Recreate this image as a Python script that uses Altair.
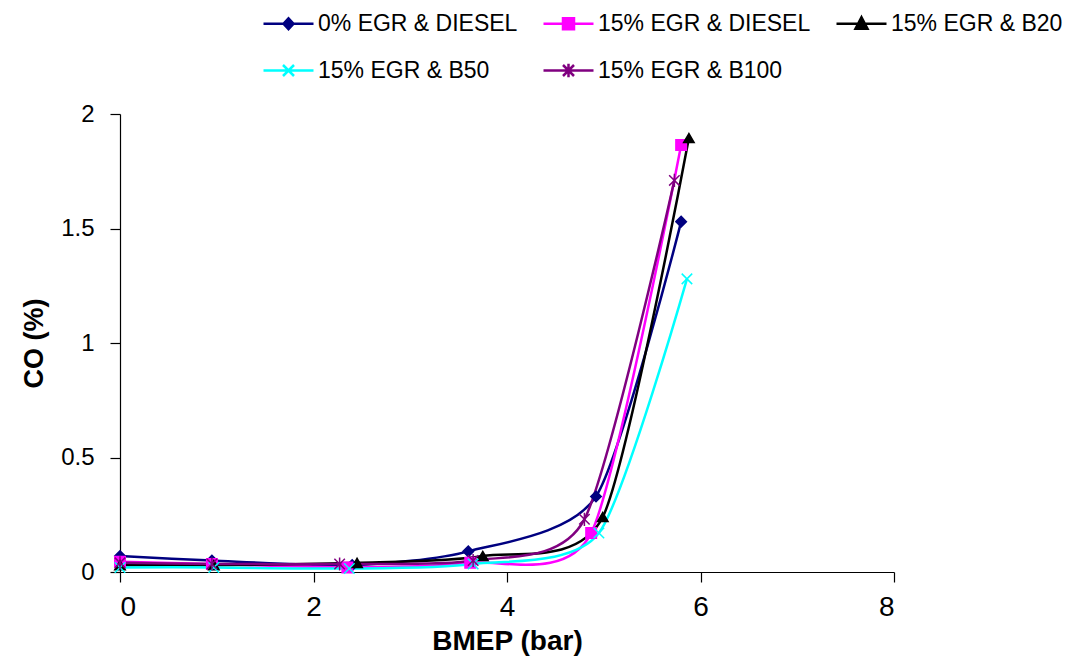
import altair as alt
import pandas as pd

series_names = ["0% EGR & DIESEL", "15% EGR & DIESEL", "15% EGR & B20",
                "15% EGR & B50", "15% EGR & B100"]
colors = ["#000080", "#FF00FF", "#000000", "#00FFFF", "#800080"]

bmep_0_diesel = [0, 0.95, 2.4, 3.6, 4.92, 5.8]
co_0_diesel = [0.07, 0.05, 0.03, 0.09, 0.33, 1.53]
bmep_15_diesel = [0, 0.95, 2.35, 3.62, 4.87, 5.8]
co_15_diesel = [0.045, 0.035, 0.02, 0.04, 0.17, 1.865]
bmep_15_b20 = [0, 0.97, 2.45, 3.75, 4.99, 5.88]
co_15_b20 = [0.03, 0.03, 0.04, 0.07, 0.24, 1.895]
bmep_15_b50 = [0, 0.97, 2.37, 3.65, 4.95, 5.86]
co_15_b50 = [0.02, 0.02, 0.015, 0.035, 0.17, 1.28]
bmep_15_b100 = [0, 0.95, 2.27, 3.65, 4.8, 5.73]
co_15_b100 = [0.04, 0.035, 0.035, 0.05, 0.23, 1.71]

x_ticks = [0, 2, 4, 6, 8]
y_ticks = [0, 0.5, 1, 1.5, 2]

all_x = [bmep_0_diesel, bmep_15_diesel, bmep_15_b20, bmep_15_b50, bmep_15_b100]
all_y = [co_0_diesel, co_15_diesel, co_15_b20, co_15_b50, co_15_b100]

rows = []
for order, (name, xs, ys) in enumerate(zip(series_names, all_x, all_y)):
    for i, (xv, yv) in enumerate(zip(xs, ys)):
        rows.append({"series": name, "bmep": xv, "co": yv, "order": order, "i": i})
df = pd.DataFrame(rows)

# marker shapes (Vega symbol paths, unit square -1..1)
point_shapes = [
    "diamond",
    "square",
    "triangle-up",
    "M-1,-1L1,1M-1,1L1,-1",
    "M-1,-1L1,1M-1,1L1,-1M0,-1.25V1.25",
]
# legend symbols: a line with the marker on it
legend_shapes = [
    "M-1,0H1M0,-0.22L0.2,0L0,0.22L-0.2,0Z",
    "M-1,0H1M-0.22,-0.22H0.22V0.22H-0.22Z",
    "M-1,0H1M0,-0.26L0.24,0.2H-0.24Z",
    "M-1,0H1M-0.22,-0.22L0.22,0.22M-0.22,0.22L0.22,-0.22",
    "M-1,0H1M-0.22,-0.22L0.22,0.22M-0.22,0.22L0.22,-0.22M0,-0.27V0.27",
]

x_enc = alt.X("bmep:Q", scale=alt.Scale(domain=[0, 8], nice=False),
              axis=alt.Axis(values=x_ticks, title="BMEP (bar)"))
y_enc = alt.Y("co:Q", scale=alt.Scale(domain=[0, 2], nice=False),
              axis=alt.Axis(values=y_ticks, title="CO (%)", format="~g"))

col_scale = alt.Scale(domain=series_names, range=colors)

lines = alt.Chart(df).mark_line(interpolate="cardinal", tension=0.3, strokeWidth=2.5).encode(
    x=x_enc, y=y_enc,
    color=alt.Color("series:N", scale=col_scale, legend=None),
    detail="series:N",
    order="i:Q",
)

points = alt.Chart(df).mark_point(filled=True, size=110, strokeWidth=1.5, opacity=1).encode(
    x=x_enc, y=y_enc,
    color=alt.Color("series:N", scale=col_scale, legend=None),
    stroke=alt.Stroke("series:N", scale=col_scale, legend=None),
    shape=alt.Shape("series:N", scale=alt.Scale(domain=series_names, range=point_shapes), legend=None),
)

leg = alt.Legend(title=None, orient="none", legendX=142, legendY=-117,
                 columns=3, direction="horizontal",
                 symbolSize=2500, symbolStrokeWidth=2.5,
                 labelFont="Liberation Sans", labelFontSize=23,
                 labelColor="black", labelOffset=3,
                 columnPadding=20, rowPadding=8, padding=0,
                 labelLimit=400)

legend_layer = alt.Chart(df).transform_filter("false").mark_point(filled=True, opacity=1).encode(
    x=x_enc, y=y_enc,
    color=alt.Color("series:N", scale=col_scale, legend=leg),
    stroke=alt.Stroke("series:N", scale=col_scale, legend=leg),
    shape=alt.Shape("series:N", scale=alt.Scale(domain=series_names, range=legend_shapes), legend=leg),
)

chart = alt.layer(lines, points, legend_layer).resolve_scale(
    shape="independent", color="independent", stroke="independent"
).properties(
    width=774, height=458,
    padding={"left": 120, "top": 114, "right": 181, "bottom": 86},
    autosize=alt.AutoSizeParams(type="none"),
    background="white",
).configure_view(
    stroke=None
).configure_legend(
    orient="none", legendX=142, legendY=-117, columns=3, direction="horizontal",
    symbolSize=2500, symbolStrokeWidth=2.5, labelFont="Liberation Sans",
    labelFontSize=23, labelColor="black", labelOffset=3, columnPadding=20,
    rowPadding=8, padding=0, labelLimit=400,
).configure_axis(
    grid=False, domainColor="black", domainWidth=1.2, tickColor="black",
    tickWidth=1.2, tickSize=10, labelColor="black", titleColor="black",
).configure_axisX(
    labelFont="Liberation Sans", labelFontSize=28, labelPadding=11,
    titleFont="Liberation Sans", titleFontSize=28, titleFontWeight="bold",
    titlePadding=6,
).configure_axisY(
    labelFont="Liberation Sans", labelFontSize=24, labelPadding=16,
    titleFont="Liberation Sans", titleFontSize=27, titleFontWeight="bold",
    titlePadding=12,
)

chart.save("out.html", embed_options={"renderer": "svg", "actions": False})
